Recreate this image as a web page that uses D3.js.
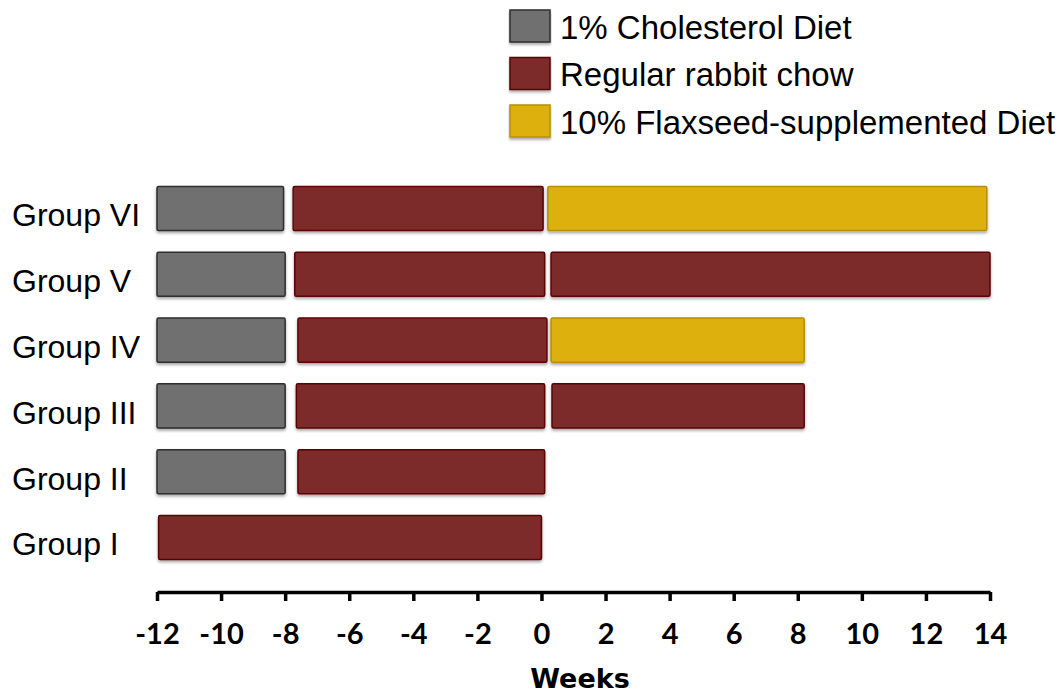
<!DOCTYPE html>
<html><head><meta charset="utf-8">
<script src="https://cdn.jsdelivr.net/npm/d3@7"></script>
<style>body{margin:0;background:#fff}svg{display:block}</style>
</head><body>
<svg id="c" width="1062" height="694"></svg>
<script>
const groups = ["Group VI","Group V","Group IV","Group III","Group II","Group I"];
const diets = ["1% Cholesterol Diet","Regular rabbit chow","10% Flaxseed-supplemented Diet"];
const dietColors = ["#6f6f6f","#7b2b2b","#deb00e"];
const dietStrokes = ["#2e2e2e","#5c0606","#b88f00"];
// segments: [group, diet index, start week, end week]
const segGroup = ["Group VI","Group VI","Group VI","Group V","Group V","Group V","Group IV","Group IV","Group IV","Group III","Group III","Group III","Group II","Group II","Group I"];
const segDiet  = [0,1,2, 0,1,1, 0,1,2, 0,1,1, 0,1, 1];
const segStart = [-12,-7.75,0.2, -12,-7.7,0.3, -12,-7.6,0.3, -12,-7.65,0.33, -12,-7.6, -11.95];
const segEnd   = [-8.05,0.05,13.9, -8,0.1,14, -8,0.17,8.2, -8,0.1,8.2, -8,0.1, 0];
const xTicks = [-12,-10,-8,-6,-4,-2,0,2,4,6,8,10,12,14];

const svg = d3.select("#c");
const defs = svg.append("defs");
const f = defs.append("filter").attr("id","sh").attr("x","-5%").attr("y","-20%").attr("width","110%").attr("height","150%");
f.append("feDropShadow").attr("dx",0).attr("dy",2).attr("stdDeviation",1.5).attr("flood-color","#000").attr("flood-opacity",0.35);

const x = d3.scaleLinear().domain([-12,14]).range([157,990]);
const y = d3.scaleBand().domain(groups).range([176,570]).paddingInner(0.33).paddingOuter(0.16);

// bars
const segs = segGroup.map((g,i)=>({g, d:segDiet[i], s:segStart[i], e:segEnd[i]}));
svg.append("g").selectAll("rect").data(segs).join("rect")
  .attr("x", d=>x(d.s)).attr("width", d=>x(d.e)-x(d.s))
  .attr("y", d=>y(d.g)).attr("height", y.bandwidth())
  .attr("fill", d=>dietColors[d.d]).attr("stroke", d=>dietStrokes[d.d]).attr("stroke-width",1.5)
  .attr("rx",1.5).attr("filter","url(#sh)");

// group labels
svg.append("g").selectAll("text").data(groups).join("text")
  .attr("x",12).attr("y", d=>y(d)+y.bandwidth()/2).attr("dy","0.56em")
  .attr("font-family","Liberation Sans, Arial, sans-serif").attr("font-size",32).attr("fill","#000")
  .text(d=>d);

// x axis
const ax = svg.append("g").attr("transform","translate(0,592)")
  .call(d3.axisBottom(x).tickValues(xTicks).tickFormat(d=>String(d)).tickSize(9).tickSizeOuter(0).tickPadding(22));
ax.select(".domain").attr("stroke","#000").attr("stroke-width",3.5);
ax.selectAll(".tick line").attr("stroke","#000").attr("stroke-width",3.5);
ax.selectAll(".tick text").attr("font-family","Lato, Open Sans, sans-serif").attr("font-weight","bold").attr("font-size",29).attr("fill","#000");

svg.append("text").attr("x",580).attr("y",688).attr("text-anchor","middle")
  .attr("font-family","DejaVu Sans, sans-serif").attr("font-weight","bold").attr("font-size",27).text("Weeks");

// legend
const leg = svg.append("g").selectAll("g").data(diets).join("g")
  .attr("transform",(d,i)=>`translate(510,${10+i*47.5})`);
leg.append("rect").attr("width",40).attr("height",32)
  .attr("fill",(d,i)=>dietColors[i]).attr("stroke",(d,i)=>dietStrokes[i]).attr("stroke-width",1.5).attr("filter","url(#sh)");
leg.append("text").attr("x",50).attr("y",17).attr("dy","0.35em")
  .attr("font-family","Liberation Sans, Arial, sans-serif").attr("font-size",33).text(d=>d);
</script>
</body></html>
